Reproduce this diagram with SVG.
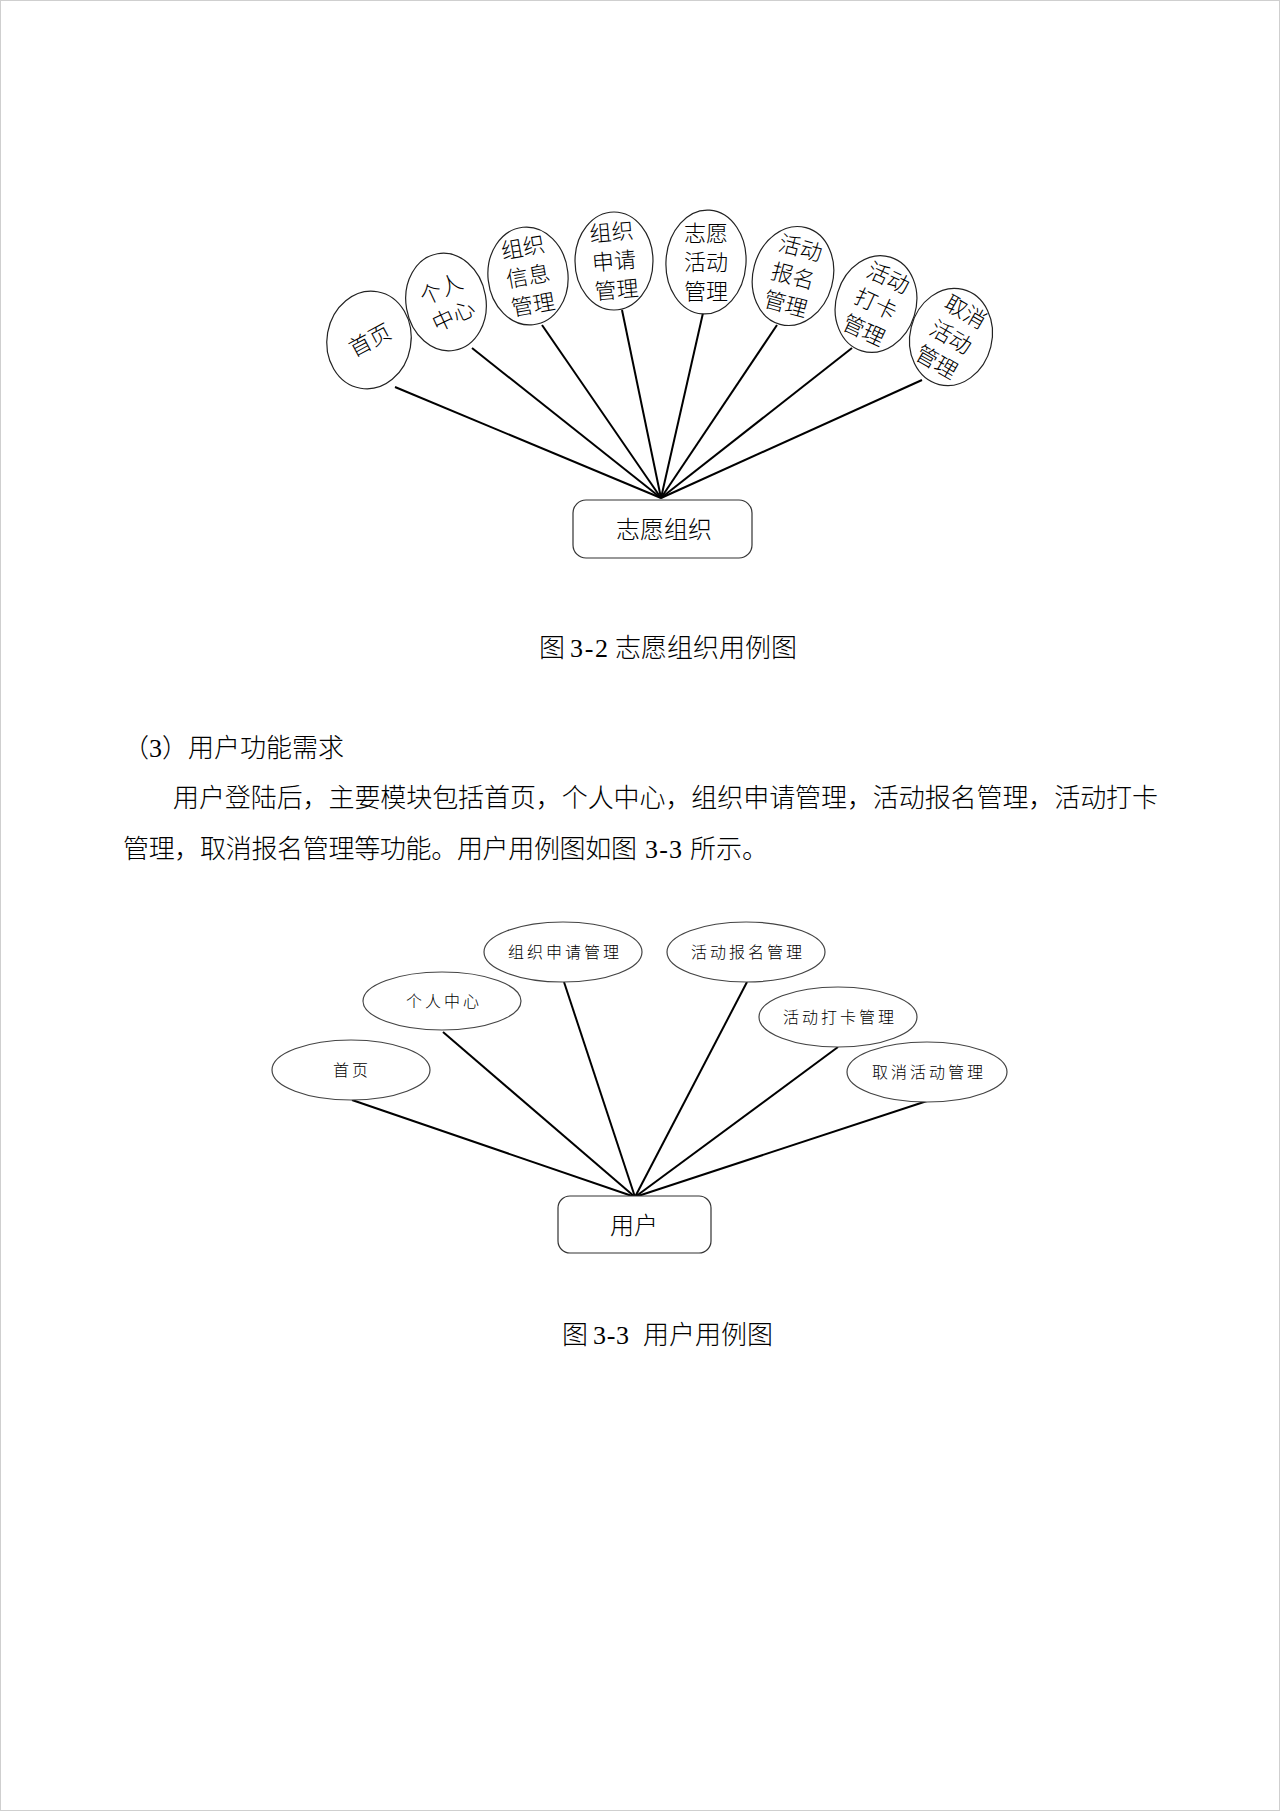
<svg xmlns="http://www.w3.org/2000/svg" width="1280" height="1811" viewBox="0 0 1280 1811">
<style>
.t{font-family:"Liberation Serif","Noto Sans CJK SC",serif;font-size:26px;fill:#000;font-weight:300}
.n1{font-family:"Noto Sans CJK SC",sans-serif;font-size:22px;fill:#000;text-anchor:middle;font-weight:300}
.n2{font-family:"Noto Sans CJK SC",sans-serif;font-size:16px;fill:#000;text-anchor:middle;letter-spacing:3px;font-weight:300}
.e1{fill:#fff;stroke:#222;stroke-width:1.2}
.e2{fill:#fff;stroke:#444;stroke-width:1.2}
.bx{fill:#fff;stroke:#333;stroke-width:1.2}
.ln{stroke:#000;stroke-width:2;fill:none}
</style>
<rect x="0.5" y="0.5" width="1279" height="1810" fill="#fff" stroke="#cfcfcf" stroke-width="1"/>

<g id="connectors-1">
<line class="ln" x1="661" y1="498" x2="395" y2="387"/>
<line class="ln" x1="661" y1="498" x2="472" y2="348"/>
<line class="ln" x1="661" y1="498" x2="542" y2="325"/>
<line class="ln" x1="661" y1="498" x2="622" y2="310"/>
<line class="ln" x1="661" y1="498" x2="703" y2="313"/>
<line class="ln" x1="661" y1="498" x2="777" y2="325"/>
<line class="ln" x1="661" y1="498" x2="852" y2="348"/>
<line class="ln" x1="661" y1="498" x2="922" y2="380"/>
</g>

<g id="n1-home">
<ellipse class="e1" cx="369" cy="340" rx="42" ry="49" transform="rotate(10 369 340)"/>
<text class="n1" transform="translate(370 340) rotate(-28)" x="0" y="8">首页</text>
</g>
<g id="n1-center">
<ellipse class="e1" cx="446" cy="302" rx="40" ry="49" transform="rotate(-10 446 302)"/>
<g transform="translate(447 302) rotate(-25)">
<text class="n1" x="0" y="-6">个人</text>
<text class="n1" x="0" y="23">中心</text>
</g>
</g>
<g id="n1-orginfo">
<ellipse class="e1" cx="528" cy="276" rx="40" ry="49" transform="rotate(-6 528 276)"/>
<g transform="translate(528 276) rotate(-10)">
<text class="n1" x="0" y="-21">组织</text>
<text class="n1" x="0" y="8">信息</text>
<text class="n1" x="0" y="37">管理</text>
</g>
</g>
<g id="n1-orgapply">
<ellipse class="e1" cx="614" cy="261" rx="39" ry="49"/>
<g transform="translate(614 261) rotate(-5)">
<text class="n1" x="0" y="-21">组织</text>
<text class="n1" x="0" y="8">申请</text>
<text class="n1" x="0" y="37">管理</text>
</g>
</g>
<g id="n1-volact">
<ellipse class="e1" cx="706" cy="262" rx="40" ry="52" transform="rotate(4 706 262)"/>
<g transform="translate(706 262)">
<text class="n1" x="0" y="-21">志愿</text>
<text class="n1" x="0" y="8">活动</text>
<text class="n1" x="0" y="37">管理</text>
</g>
</g>
<g id="n1-signup">
<ellipse class="e1" cx="793" cy="276" rx="40" ry="50" transform="rotate(15 793 276)"/>
<g transform="translate(793 276) rotate(15)">
<text class="n1" x="0" y="-21">活动</text>
<text class="n1" x="0" y="8">报名</text>
<text class="n1" x="0" y="37">管理</text>
</g>
</g>
<g id="n1-checkin">
<ellipse class="e1" cx="876" cy="304" rx="40" ry="49" transform="rotate(17 876 304)"/>
<g transform="translate(876 304) rotate(25)">
<text class="n1" x="0" y="-21">活动</text>
<text class="n1" x="0" y="8">打卡</text>
<text class="n1" x="0" y="37">管理</text>
</g>
</g>
<g id="n1-cancel">
<ellipse class="e1" cx="951" cy="337" rx="41" ry="49" transform="rotate(14 951 337)"/>
<g transform="translate(951 337) rotate(30)">
<text class="n1" x="0" y="-21">取消</text>
<text class="n1" x="0" y="8">活动</text>
<text class="n1" x="0" y="37">管理</text>
</g>
</g>
<g id="n1-org">
<rect class="bx" x="573" y="500" width="179" height="58" rx="13"/>
<text class="n1" x="664" y="538" style="font-size:24px">志愿组织</text>
</g>

<g id="captions-text">
<text class="t" x="539" y="657">图</text>
<text class="t" x="570" y="657" textLength="38" lengthAdjust="spacing">3-2</text>
<text class="t" x="615" y="657">志愿组织用例图</text>
<text class="t" x="123" y="757">（3）用户功能需求</text>
<text class="t" x="173" y="807" textLength="985" lengthAdjust="spacing">用户登陆后，主要模块包括首页，个人中心，组织申请管理，活动报名管理，活动打卡</text>
<text class="t" x="123" y="858" textLength="514" lengthAdjust="spacing">管理，取消报名管理等功能。用户用例图如图</text>
<text class="t" x="645" y="858" textLength="37" lengthAdjust="spacing">3-3</text>
<text class="t" x="690" y="858">所示。</text>
<text class="t" x="562" y="1344">图</text>
<text class="t" x="593" y="1344" textLength="36" lengthAdjust="spacing">3-3</text>
<text class="t" x="643" y="1344">用户用例图</text>
</g>

<g id="connectors-2">
<line class="ln" x1="635" y1="1197" x2="352" y2="1100"/>
<line class="ln" x1="635" y1="1197" x2="443" y2="1032"/>
<line class="ln" x1="635" y1="1197" x2="564" y2="982"/>
<line class="ln" x1="635" y1="1197" x2="747" y2="982"/>
<line class="ln" x1="635" y1="1197" x2="838" y2="1047"/>
<line class="ln" x1="635" y1="1197" x2="927" y2="1101"/>
</g>

<g id="n2-home">
<ellipse class="e2" cx="351" cy="1070" rx="79" ry="30"/>
<text class="n2" x="352" y="1076">首页</text>
</g>
<g id="n2-center">
<ellipse class="e2" cx="442" cy="1001" rx="79" ry="29"/>
<text class="n2" x="444" y="1007">个人中心</text>
</g>
<g id="n2-orgapply">
<ellipse class="e2" cx="563" cy="952" rx="79" ry="30"/>
<text class="n2" x="565" y="958">组织申请管理</text>
</g>
<g id="n2-signup">
<ellipse class="e2" cx="746" cy="952" rx="79" ry="30"/>
<text class="n2" x="748" y="958">活动报名管理</text>
</g>
<g id="n2-checkin">
<ellipse class="e2" cx="838" cy="1017" rx="79" ry="30"/>
<text class="n2" x="840" y="1023">活动打卡管理</text>
</g>
<g id="n2-cancel">
<ellipse class="e2" cx="927" cy="1072" rx="80" ry="30"/>
<text class="n2" x="929" y="1078">取消活动管理</text>
</g>
<g id="n2-user">
<rect class="bx" x="558" y="1196" width="153" height="57" rx="12"/>
<text class="n1" x="634" y="1234" style="font-size:24px">用户</text>
</g>
</svg>
